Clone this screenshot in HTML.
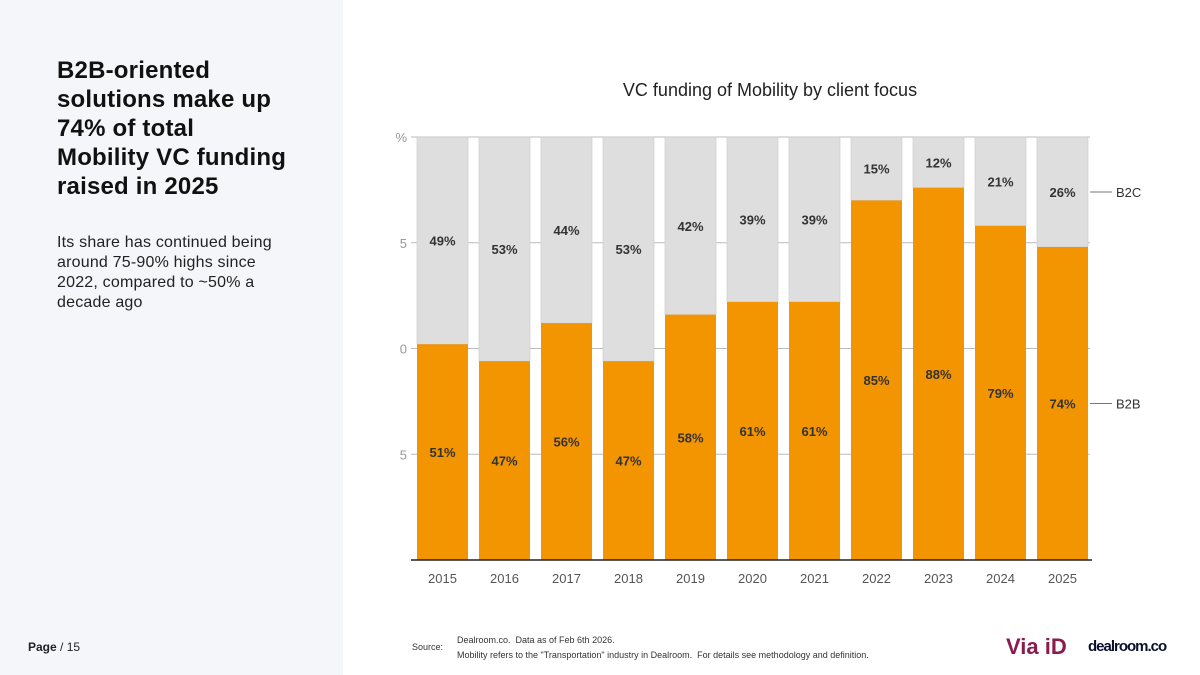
<!DOCTYPE html>
<html><head><meta charset="utf-8">
<style>
body{margin:0;width:1200px;height:675px;background:#fff;font-family:"Liberation Sans",sans-serif;position:relative;overflow:hidden}
#left{position:absolute;left:0;top:0;width:343px;height:675px;background:#f5f6fa}
h1{position:absolute;left:57px;top:56px;margin:0;font-size:24px;line-height:29px;font-weight:bold;color:#111;width:232px;letter-spacing:0.2px}
#sub{position:absolute;left:57px;top:233px;font-size:16px;line-height:20px;color:#222;width:228px;letter-spacing:0.2px}
#page{position:absolute;left:28px;top:640px;font-size:12px;color:#222}
.ft{position:absolute;font-size:9px;color:#333}
</style></head><body>
<div id="left"></div>
<h1>B2B-oriented solutions make up 74% of total Mobility VC funding raised in 2025</h1>
<div id="sub">Its share has continued being around 75-90% highs since 2022, compared to ~50% a decade ago</div>
<div id="page"><b>Page</b> / 15</div>
<div class="ft" style="left:412px;top:642px">Source:</div>
<div class="ft" style="left:457px;top:633px;line-height:15px">Dealroom.co.&nbsp; Data as of Feb 6th 2026.<br>Mobility refers to the "Transportation" industry in Dealroom.&nbsp; For details see methodology and definition.</div>
<div style="position:absolute;left:1006px;top:634px;font-size:22px;color:#8b1a4f;font-weight:bold">Via iD</div>
<div style="position:absolute;left:1088px;top:638px;font-size:15px;color:#0a0f2c;font-weight:bold;letter-spacing:-1px">dealroom.co</div>
<svg id="chart" width="1200" height="675" style="position:absolute;left:0;top:0"></svg>
<script>
const years=["2015","2016","2017","2018","2019","2020","2021","2022","2023","2024","2025"];
const b2b=[51,47,56,47,58,61,61,85,88,79,74];
const b2c=[49,53,44,53,42,39,39,15,12,21,26];
const yTicks=[100,75,50,25];
const yTickLabels=["%","5","0","5"];
const NS="http://www.w3.org/2000/svg";
const svg=document.getElementById('chart');
const top0=137,bot=560,x0=411,step=62,bw=51;
const y=v=>bot-(bot-top0)*v/100;
const xb=i=>x0+6+i*step;
function mk(t,a){const e=document.createElementNS(NS,t);for(const k in a)e.setAttribute(k,a[k]);svg.appendChild(e);return e;}
let t=mk('text',{x:770,y:96,'text-anchor':'middle','font-size':18,fill:'#222'});t.textContent="VC funding of Mobility by client focus";


yTicks.forEach((v,i)=>{
 let l=mk('line',{x1:x0,x2:1090,y1:y(v),y2:y(v),stroke:'#bbb','stroke-width':1});
 
 
 let tx=mk('text',{x:407,y:y(v)+5,'text-anchor':'end','font-size':13,fill:'#999'});tx.textContent=yTickLabels[i];
 
 
});
years.forEach((yr,i)=>{
 const x=xb(i),tot=b2b[i]+b2c[i];
 let g=mk('rect',{x:x,y:y(100),width:bw,height:y(b2b[i]*100/tot)-y(100),fill:'#dedede',stroke:'#c8c8c8','stroke-width':0.6});
 
 
 let o=mk('rect',{x:x,y:y(b2b[i]*100/tot),width:bw,height:bot-y(b2b[i]*100/tot),fill:'#f29500'});
 
 
 let l1=mk('text',{x:x+bw/2,y:(y(100)+y(b2b[i]))/2+5,'text-anchor':'middle','font-size':13,'font-weight':'bold',fill:'#333'});l1.textContent=b2c[i]+"%";
 
 
 let l2=mk('text',{x:x+bw/2,y:(y(b2b[i])+bot)/2+5,'text-anchor':'middle','font-size':13,'font-weight':'bold',fill:'#333'});l2.textContent=b2b[i]+"%";
 
 
 let yl=mk('text',{x:x+bw/2,y:583,'text-anchor':'middle','font-size':13,fill:'#555'});yl.textContent=yr;
 
 
});
let ax=mk('line',{x1:x0,x2:1092,y1:bot,y2:bot,stroke:'#222','stroke-width':1.5});


const li=years.length-1,lx=xb(li)+bw;
[["B2C",(y(100)+y(b2b[li]))/2],["B2B",(y(b2b[li])+bot)/2]].forEach(([n,yy])=>{
 let l=mk('line',{x1:lx+2,x2:lx+24,y1:yy,y2:yy,stroke:'#777','stroke-width':1});
 
 
 let tx=mk('text',{x:lx+28,y:yy+5,'font-size':13,fill:'#333'});tx.textContent=n;
 
 
});
</script>
</body></html>
